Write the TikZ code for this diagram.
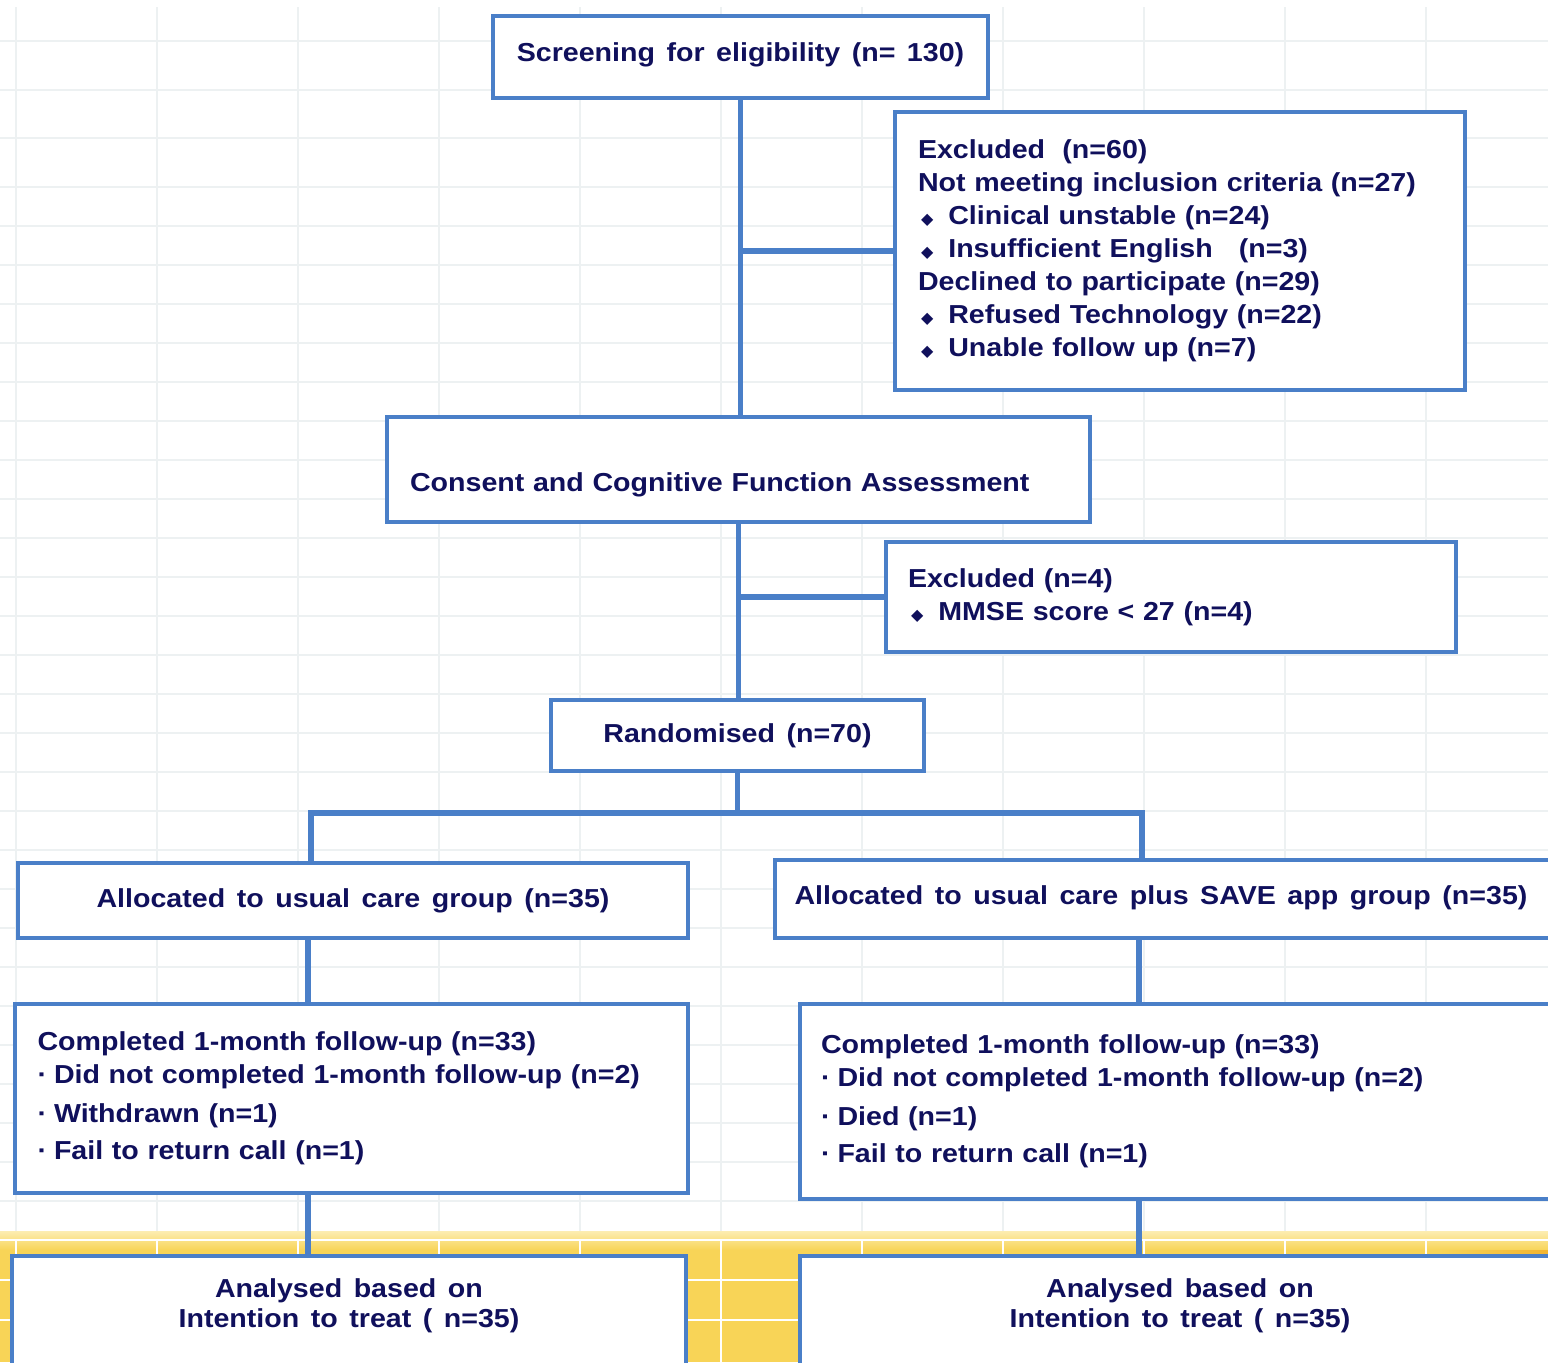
\documentclass[tikz,border=0pt]{standalone}
\usepackage{fontspec}
\setmainfont{Liberation Sans}[FakeStretch=1.1, WordSpace=1.45]
\newfontfamily\dingfont{DejaVu Sans}
\definecolor{boxblue}{HTML}{4A7FC8}
\definecolor{inkblue}{HTML}{10105C}
\definecolor{gridgray}{HTML}{EDF1F2}
\definecolor{bandtop}{HTML}{FCEDB2}
\definecolor{bandmid}{HTML}{F8D457}
\definecolor{bandend}{HTML}{F2B430}
\newcommand{\dia}{\hspace{1.5pt}{\dingfont\fontsize{8}{8}\selectfont ◆}\hspace{7.5pt}}
\newcommand{\dotb}{·\hspace{3.5pt}}

\begin{document}
\begin{tikzpicture}[x = .5pt, y = -.5pt,
    box/.style = {draw = boxblue, line width = 2pt, fill = white, rectangle, inner sep = 0pt,
      text = inkblue, font = \bfseries\fontsize{13}{16.5}\selectfont},
    link/.style = {draw = boxblue, line width = 2.8pt}]
  \useasboundingbox (0, 0) rectangle (1548, 1362);
  \clip (0, 0) rectangle (1548, 1362);

  % sheet behind the chart
  \fill [white] (0, 0) rectangle (1548, 1362);
  \foreach \gx in {16, 157, ..., 1548}
    \draw [gridgray, line width = 1pt] (\gx, 7) -- (\gx, 1233);
  \foreach \gy in {41, 90, 138, 187, 226, ..., 1220}
    \draw [gridgray, line width = 1pt] (0, \gy) -- (1548, \gy);
  \fill [bandmid] (0, 1233) rectangle (1548, 1362);
  \shade [top color = bandtop, bottom color = bandmid] (0, 1231) rectangle (1548, 1250);
  \shade [left color = bandmid, right color = bandend] (1440, 1250) rectangle (1548, 1362);
  \foreach \gx in {16, 157, ..., 1548}
    \draw [white, line width = 1pt] (\gx, 1240) -- (\gx, 1362);
  \foreach \gy in {1240, 1280, 1320}
    \draw [white, line width = 1pt] (0, \gy) -- (1548, \gy);

  % boxes
  \node (screen)  at (740.5,   57) [box, minimum width = 247.5pt, minimum height = 41pt]
    {\raisebox{-2.2pt}[0pt][0pt]{Screening for eligibility (n= 130)}};
  \node (excl1)   at (1180,   251) [box, minimum width = 285pt, minimum height = 139pt,
      text width = 262pt, align = left]
    {Excluded \ (n=60)\\
     Not meeting inclusion criteria (n=27)\\
     \dia Clinical unstable (n=24)\\
     \dia Insufficient English \ \ (n=3)\\
     Declined to participate (n=29)\\
     \dia Refused Technology (n=22)\\
     \dia Unable follow up (n=7)};
  \node (consent) at (738.5, 469.5) [box, minimum width = 351.5pt, minimum height = 52.5pt,
      text width = 328.5pt, align = left]
    {\raisebox{-11pt}[0pt][0pt]{Consent and Cognitive Function Assessment}};
  \node (excl2)   at (1171,   597) [box, minimum width = 285pt, minimum height = 55pt,
      text width = 263pt, align = left]
    {Excluded (n=4)\\
     \dia MMSE score < 27 (n=4)};
  \node (rand)    at (737.5, 735.5) [box, minimum width = 186.5pt, minimum height = 35.5pt]
    {Randomised (n=70)};
  \node (usual)   at (353,  900.5) [box, minimum width = 335pt, minimum height = 37.5pt]
    {\raisebox{-3.5pt}[0pt][0pt]{Allocated to usual care group (n=35)}};
  \node (save)    at (1167,   899) [box, minimum width = 392.5pt, minimum height = 39pt]
    {\hspace*{-6pt}\raisebox{-2.7pt}[0pt][0pt]{Allocated to usual care plus SAVE app group (n=35)}};
  \node (done1)   at (351.5, 1098.5) [box, minimum width = 336.5pt, minimum height = 94.5pt,
      text width = 314pt, align = left]
    {Completed 1-month follow-up (n=33)\\
     \dotb Did not completed 1-month follow-up (n=2)\\[3pt]
     \dotb Withdrawn (n=1)\\[2pt]
     \dotb Fail to return call (n=1)};
  \node (done2)   at (1180,  1101.5) [box, minimum width = 380pt, minimum height = 97.5pt,
      text width = 359pt, align = left]
    {Completed 1-month follow-up (n=33)\\
     \dotb Did not completed 1-month follow-up (n=2)\\[3pt]
     \dotb Died (n=1)\\[2pt]
     \dotb Fail to return call (n=1)};
  \node (itt1)    at (349,   1318) [box, minimum width = 337pt, minimum height = 62pt]
    {\raisebox{-4.5pt}[0pt][0pt]{\begin{tabular}[b]{@{}c@{}}Analysed based on\\[-1.5pt]
     Intention to treat ( n=35)\end{tabular}}};
  \node (itt2)    at (1180,  1318) [box, minimum width = 380pt, minimum height = 62pt]
    {\raisebox{-4.5pt}[0pt][0pt]{\begin{tabular}[b]{@{}c@{}}Analysed based on\\[-1.5pt]
     Intention to treat ( n=35)\end{tabular}}};

  % connectors
  \coordinate (armL) at (311, 813);
  \coordinate (armR) at (1142, 813);
  \coordinate (colL) at (308, 0);
  \coordinate (colR) at (1139, 0);
  \draw [link] (screen.south) -- (screen.south |- consent.north);
  \draw [link] (excl1.west) -- (excl1.west -| screen.south);
  \draw [link] (consent.south) -- (consent.south |- rand.north);
  \draw [link] (excl2.west) -- (excl2.west -| consent.south);
  \draw [link] (rand.south) -- (rand.south |- armL);
  \draw [link] (usual.north -| armL) -- (armL) -- (armR) -- (save.north -| armR);
  \draw [link] (usual.south -| colL) -- (done1.north -| colL);
  \draw [link] (save.south -| colR) -- (done2.north -| colR);
  \draw [link] (done1.south -| colL) -- (itt1.north -| colL);
  \draw [link] (done2.south -| colR) -- (itt2.north -| colR);
\end{tikzpicture}
\end{document}
